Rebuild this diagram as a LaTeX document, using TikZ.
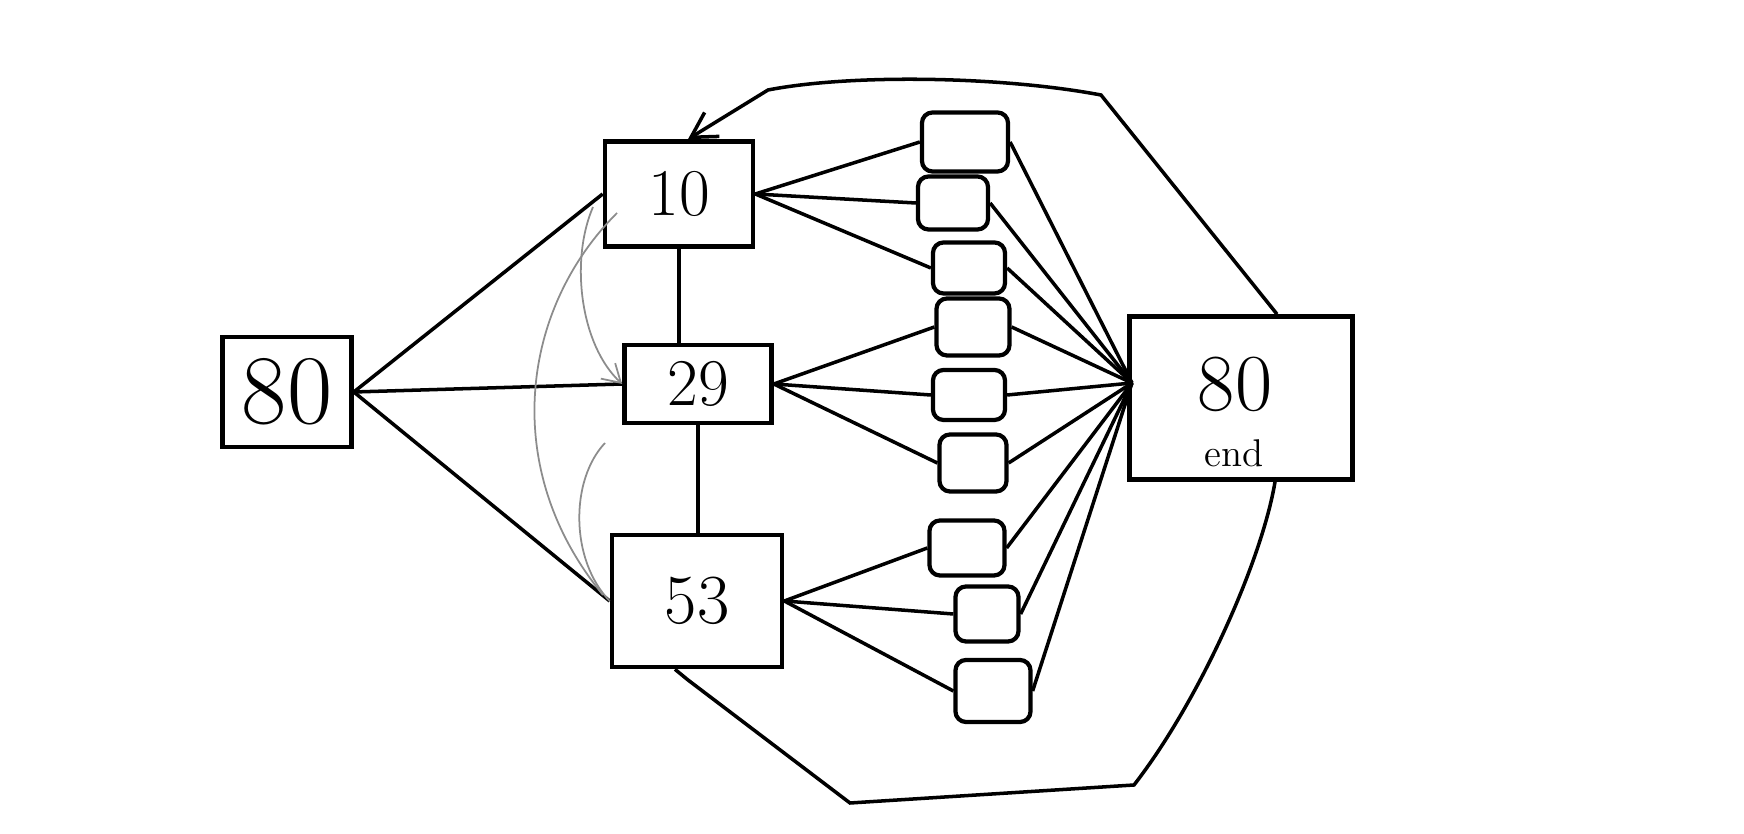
\documentclass[tikz,border=0pt]{standalone}
\usetikzlibrary{arrows.meta}
\begin{document}
\begin{tikzpicture}[x=0.01cm,y=-0.01cm,
  box/.style={draw,line width=1.3pt,inner sep=0pt},
  cell/.style={draw,line width=1.2pt,rounded corners=3pt,inner sep=0pt},
  wire/.style={line width=1pt},
  faint/.style={black!45,line width=0.5pt}]
\fill[white] (0,0) rectangle (1744,834);
\useasboundingbox (0,0) rectangle (1744,834);

% the four numbered boxes
\node[box,minimum width=1.29cm,minimum height=1.1cm,font=\fontsize{28}{30}\selectfont] (src) at (287,392) {80};
\node[box,minimum width=1.48cm,minimum height=1.05cm,font=\fontsize{19}{21}\selectfont] (ten) at (679,194) {10};
\node[box,minimum width=1.47cm,minimum height=0.78cm,font=\fontsize{19}{21}\selectfont] (tn) at (698,384) {29};
\node[box,minimum width=1.7cm,minimum height=1.32cm,font=\fontsize{20}{22}\selectfont] (ft) at (697,601) {53};

% end box
\node[box,minimum width=2.23cm,minimum height=1.63cm] (fin) at (1241,398) {};
\node[inner sep=0pt,font=\fontsize{23}{25}\selectfont] (finnum) at (1235,384) {80};
\node[inner sep=0pt,font=\fontsize{11}{13}\selectfont] (finlbl) at (1234,453) {end};
\coordinate (hub) at (1132,383);

% small boxes
\foreach \i/\x/\y/\w/\h in {1/965/142/0.86/0.59, 2/953/203/0.70/0.53, 3/969/268/0.72/0.51,
    4/973/327/0.73/0.57, 5/969/395/0.72/0.50, 6/973/463/0.67/0.57,
    7/967/548/0.75/0.55, 8/987/614/0.63/0.55, 9/993/691/0.75/0.62}
  \node[cell,minimum width=\w cm,minimum height=\h cm] (b\i) at (\x,\y) {};

% from the left box
\draw[wire] (src.east) -- (ten.west);
\draw[wire] (src.east) -- (tn.west);
\draw[wire] (src.east) -- (ft.west);

% down the middle
\draw[wire] (ten.south) -- (ten.south |- tn.north);
\draw[wire] (tn.south) -- (tn.south |- ft.north);

% fan out to the small boxes
\foreach \i in {1,2,3}
  \draw[wire] (ten.east) -- (b\i.west);
\foreach \i in {4,5,6}
  \draw[wire] (tn.east) -- (b\i.west);
\foreach \i in {7,8,9}
  \draw[wire] (ft.east) -- (b\i.west);

% fan in to the end box
\foreach \i in {1,...,9}
  \draw[wire] (b\i.east) -- (hub);

% loops round the outside
\draw[wire,-{Straight Barb[length=7pt,width=8pt]}] ([xshift=0.36cm]fin.north) -- (1101,95)
  .. controls (1000,76) and (850,74) .. (768,90) -- ([xshift=0.09cm]ten.north);
\draw[wire] ([xshift=-0.22cm]ft.south) -- (688,680) -- (850,803) -- (1134,785)
  .. controls (1200,700) and (1262,560) .. ([xshift=0.34cm]fin.south);

% faint pencil curves
\coordinate (p1) at (593,207);
\coordinate (p2) at (617,213);
\coordinate (p3) at (605,443);
\draw[faint,-{Straight Barb[length=5pt,width=6pt]}] (p1) .. controls (570,260) and (580,345) .. (tn.west);
\draw[faint] (p2) .. controls (520,310) and (500,470) .. (603,595);
\draw[faint] (p3) .. controls (570,480) and (570,560) .. (ft.west);
\end{tikzpicture}
\end{document}
